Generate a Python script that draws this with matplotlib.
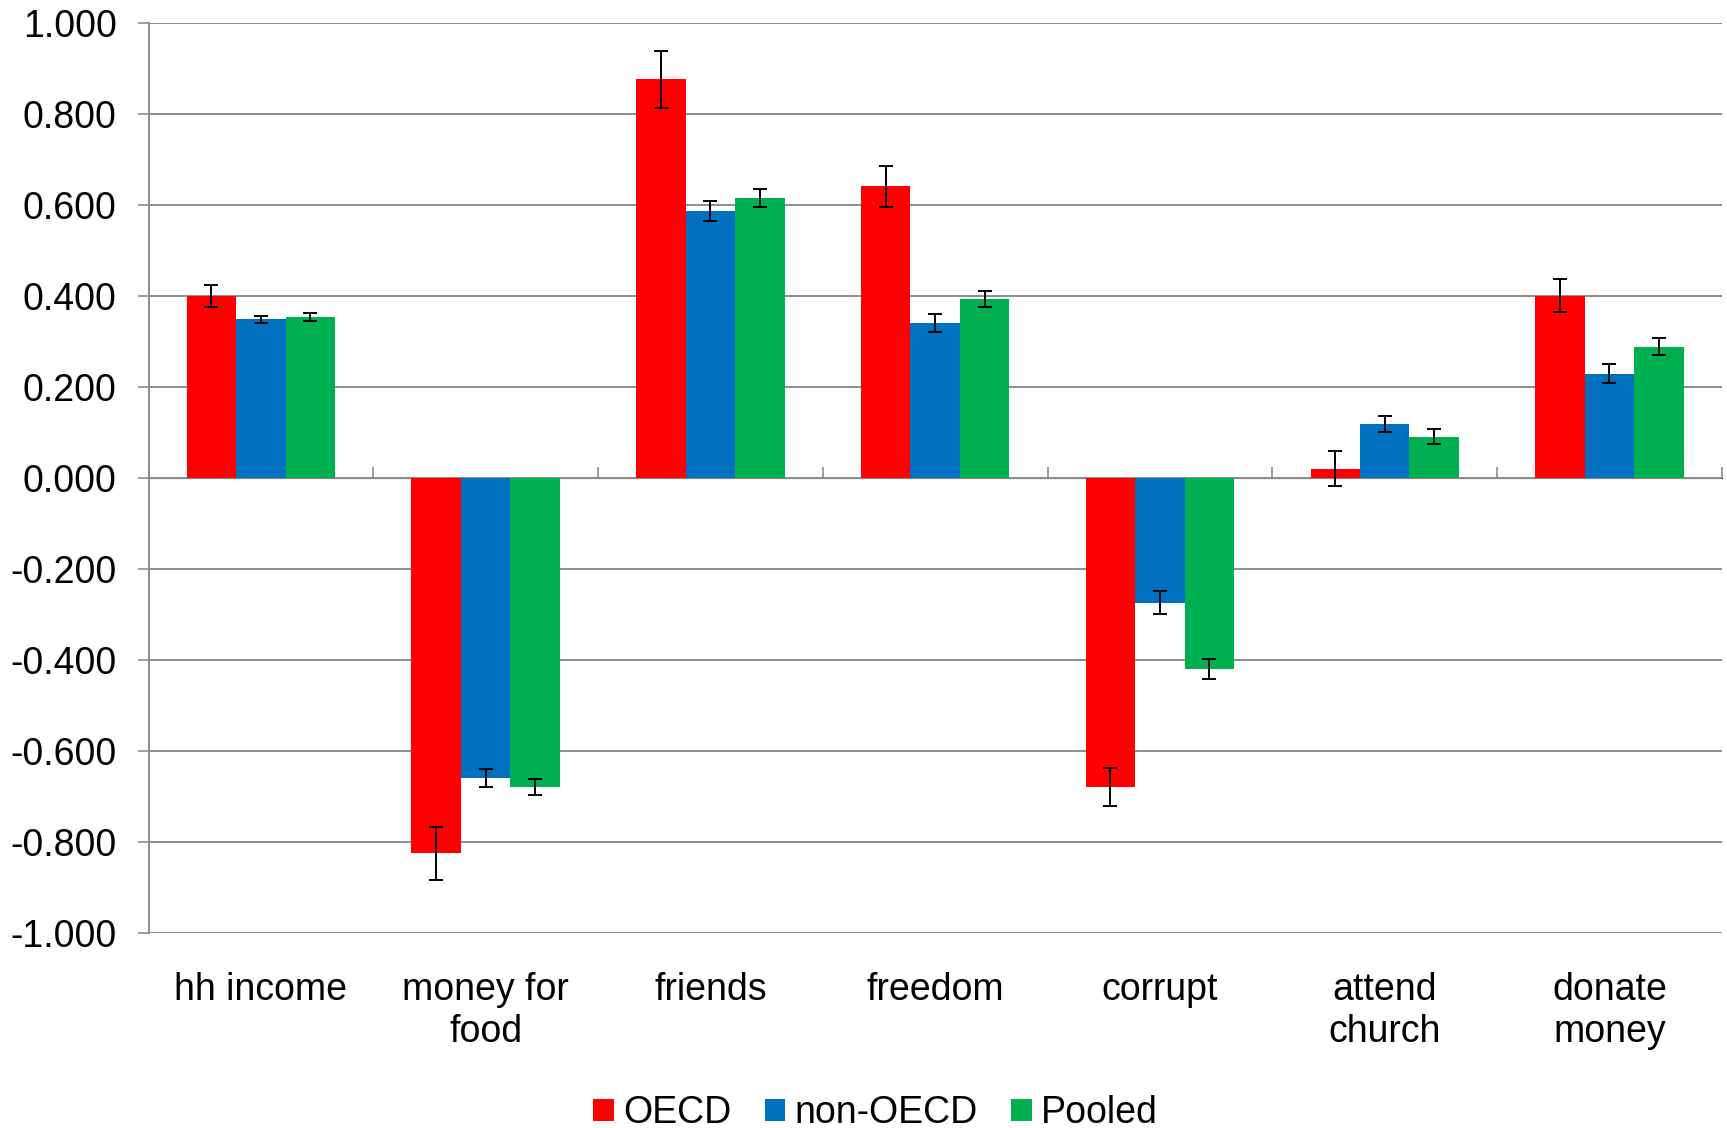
import matplotlib
matplotlib.use('Agg')
import matplotlib.pyplot as plt
from matplotlib.patches import Patch
from matplotlib.ticker import FuncFormatter, FixedLocator
import numpy as np

plt.rcParams['font.family'] = ['Liberation Sans', 'DejaVu Sans']

# data
categories = ['hh income', 'money for\nfood', 'friends', 'freedom',
              'corrupt', 'attend\nchurch', 'donate\nmoney']
series_names = ['OECD', 'non-OECD', 'Pooled']
oecd = [0.400, -0.825, 0.875, 0.640, -0.680, 0.020, 0.400]
non_oecd = [0.348, -0.660, 0.585, 0.340, -0.275, 0.118, 0.228]
pooled = [0.353, -0.680, 0.615, 0.392, -0.420, 0.090, 0.288]
oecd_err = [0.024, 0.058, 0.063, 0.045, 0.042, 0.039, 0.037]
non_oecd_err = [0.008, 0.020, 0.022, 0.020, 0.025, 0.018, 0.021]
pooled_err = [0.008, 0.018, 0.020, 0.018, 0.022, 0.017, 0.018]
colors = ['#FF0000', '#0070C0', '#00B050']
y_ticks = [-1.0, -0.8, -0.6, -0.4, -0.2, 0.0, 0.2, 0.4, 0.6, 0.8, 1.0]

grey = '#8C8C8C'
fs = 27

fig = plt.figure(figsize=(17.27, 11.28), dpi=100)
ax = fig.add_axes([0.086, 0.173, 0.911, 0.807])

x = np.arange(len(categories))
width = 0.22
values = [oecd, non_oecd, pooled]
errors = [oecd_err, non_oecd_err, pooled_err]
for i, (vals, errs) in enumerate(zip(values, errors)):
    ax.bar(x + (i - 1) * width, vals, width, color=colors[i],
           yerr=errs, error_kw=dict(ecolor='black', elinewidth=1.4,
                                    capsize=5, capthick=1.4),
           zorder=2)

ax.set_xlim(-0.5, len(categories) - 0.5)
ax.set_ylim(-1.0, 1.0)

# gridlines and y axis
ax.set_yticks(y_ticks)
ax.yaxis.set_major_formatter(FuncFormatter(lambda v, _: f'{v:.3f}'))
ax.grid(axis='y', color=grey, linewidth=1.4, zorder=0)
ax.set_axisbelow(True)
ax.tick_params(axis='y', length=8, width=1.2, color=grey, pad=15,
               labelsize=fs)

for side in ['top', 'right', 'bottom']:
    ax.spines[side].set_visible(False)
ax.spines['left'].set_color(grey)
ax.spines['left'].set_linewidth(1.4)

# category labels at bottom
ax.set_xticks(x)
ax.set_xticklabels(categories, linespacing=1.22)
ax.tick_params(axis='x', length=0, pad=28, labelsize=fs)

# zero axis with boundary ticks
sec = ax.secondary_xaxis(0.5)
sec.xaxis.set_major_locator(FixedLocator(np.arange(len(categories) + 1) - 0.5))
sec.set_xticklabels([])
sec.tick_params(axis='x', length=8, width=1.2, color=grey, direction='out')
sec.spines['bottom'].set_color(grey)
sec.spines['bottom'].set_linewidth(1.4)

handles = [Patch(facecolor=c, edgecolor='none') for c in colors]
fig.legend(handles, series_names, loc='center', bbox_to_anchor=(0.507, 0.013),
           ncol=3, frameon=False, fontsize=fs, handlelength=0.55,
           handleheight=0.55, handletextpad=0.25, columnspacing=0.88)

fig.savefig('out.png', dpi=100)
